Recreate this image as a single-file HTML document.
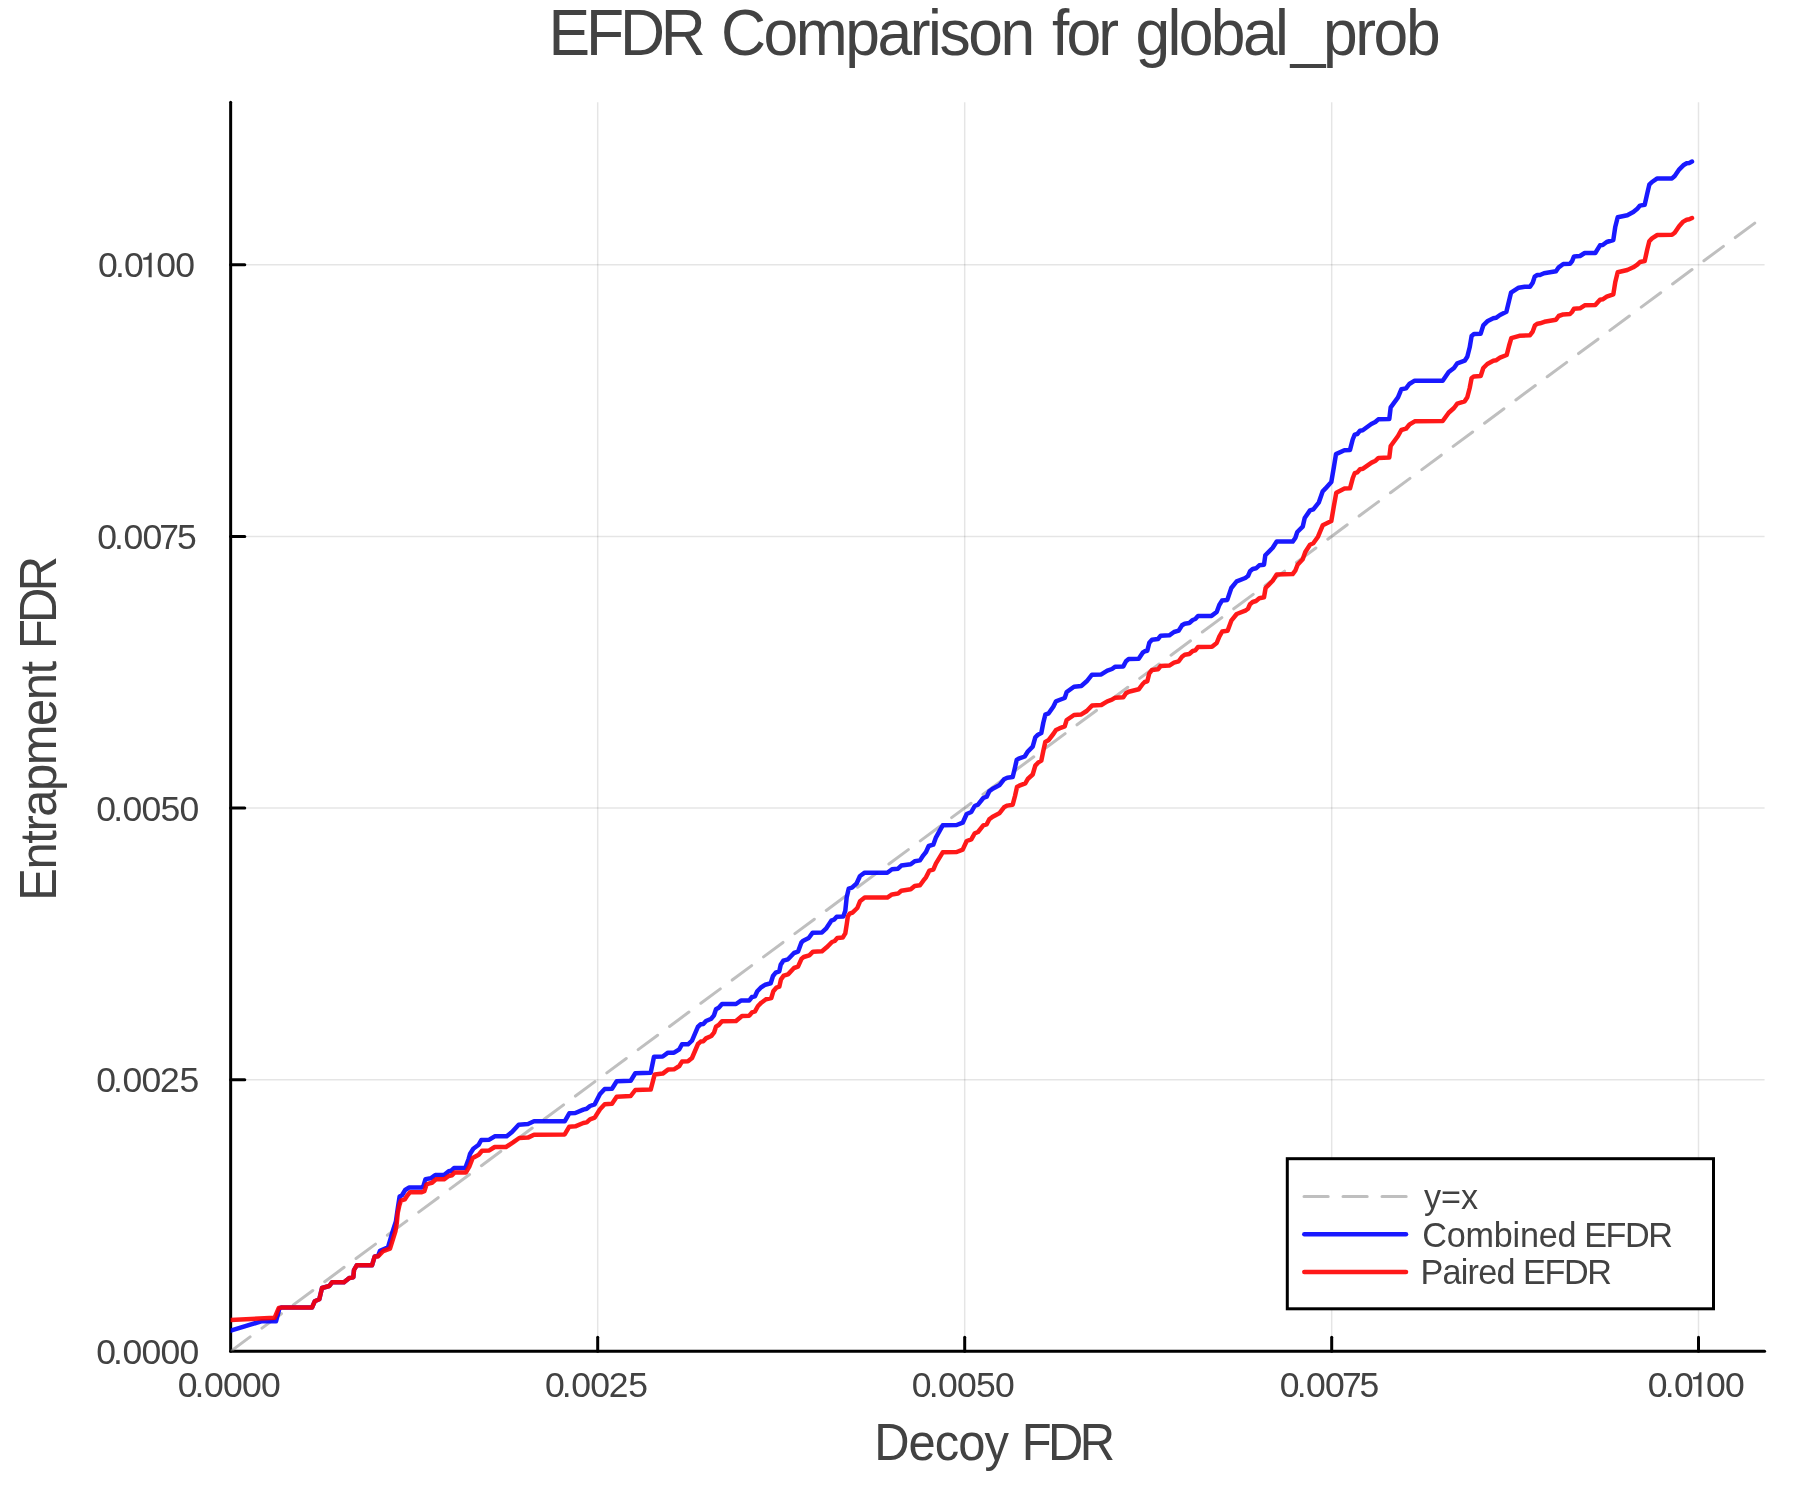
<!DOCTYPE html>
<html lang="en"><head><meta charset="utf-8"><title>EFDR Comparison for global_prob</title>
<style>html,body{margin:0;padding:0;background:#fff;}body{width:1800px;height:1500px;overflow:hidden;}svg{display:block;}text{font-family:"Liberation Sans",sans-serif;fill:#424242;font-kerning:none;white-space:pre;}</style></head><body>
<svg width="1800" height="1500" viewBox="0 0 1800 1500" style="will-change:transform">
<rect width="1800" height="1500" fill="#ffffff"/>
<g stroke="#000" stroke-opacity="0.1" stroke-width="1.5" fill="none">
<path d="M597.7,102.2 V1351.3"/>
<path d="M964.7,102.2 V1351.3"/>
<path d="M1331.7,102.2 V1351.3"/>
<path d="M1698.5,102.2 V1351.3"/>
<path d="M230.65,1079.7 H1764.6"/>
<path d="M230.65,808.1 H1764.6"/>
<path d="M230.65,536.4 H1764.6"/>
<path d="M230.65,264.8 H1764.6"/>
</g>
<g stroke="#000" stroke-width="3" fill="none" stroke-linecap="round">
<path d="M230.65,102.2 V1351.3"/>
<path d="M230.65,1351.3 H1764.6"/>
<path d="M597.7,1351.3 V1337.2"/>
<path d="M964.7,1351.3 V1337.2"/>
<path d="M1331.7,1351.3 V1337.2"/>
<path d="M1698.5,1351.3 V1337.2"/>
<path d="M230.65,1079.7 H244.75"/>
<path d="M230.65,808.1 H244.75"/>
<path d="M230.65,536.4 H244.75"/>
<path d="M230.65,264.8 H244.75"/>
</g>
<clipPath id="pc"><rect x="230.65" y="102.2" width="1533.9499999999998" height="1249.1"/></clipPath>
<g clip-path="url(#pc)" fill="none" stroke-linejoin="round">
<path d="M230.65,1351.3 L1755.5,222.6" stroke="#808080" stroke-opacity="0.5" stroke-width="3" stroke-dasharray="24.2 14.8" stroke-linecap="round"/>
<path d="M230.7,1330.7 L261.3,1321.3 L276.0,1321.3 L279.3,1309.0 L281.0,1307.6 L312.0,1307.6 L314.7,1301.3 L319.3,1299.3 L322.0,1288.0 L329.3,1286.0 L332.0,1282.3 L344.0,1282.3 L349.3,1278.0 L353.3,1277.3 L354.0,1270.0 L356.7,1265.3 L372.0,1265.3 L374.7,1256.4 L378.0,1256.0 L380.0,1250.7 L388.0,1247.3 L393.3,1229.5 L395.9,1221.5 L397.1,1213.0 L398.2,1205.5 L399.6,1196.5 L402.0,1195.2 L405.2,1190.0 L408.9,1187.6 L421.2,1187.6 L423.3,1186.3 L425.5,1179.1 L430.7,1178.3 L435.3,1175.0 L444.0,1175.0 L448.7,1171.3 L451.3,1170.7 L454.0,1168.0 L465.3,1168.0 L468.7,1158.7 L470.0,1154.0 L473.3,1148.7 L478.7,1144.7 L481.3,1140.0 L489.3,1139.7 L494.7,1136.3 L506.7,1136.3 L512.0,1132.0 L518.7,1124.7 L528.0,1124.0 L534.0,1121.3 L564.7,1121.3 L569.3,1113.3 L575.3,1113.0 L583.3,1109.6 L586.7,1108.7 L590.0,1106.0 L594.7,1104.3 L600.0,1094.0 L604.7,1089.0 L612.0,1088.7 L616.7,1081.3 L630.7,1080.7 L635.3,1073.3 L650.7,1072.7 L654.0,1056.7 L662.7,1056.5 L668.0,1052.7 L674.0,1052.7 L679.3,1049.3 L682.0,1044.3 L688.0,1044.3 L692.0,1040.7 L698.0,1026.7 L700.7,1024.3 L703.3,1024.0 L706.0,1021.0 L711.3,1018.7 L714.0,1015.3 L716.0,1009.3 L718.7,1007.7 L722.0,1004.0 L736.0,1004.0 L741.3,1000.4 L749.3,1000.4 L752.0,997.0 L755.0,996.3 L757.3,991.3 L760.7,987.7 L765.3,984.7 L770.7,983.3 L773.0,976.0 L775.7,972.7 L779.3,971.3 L780.7,964.7 L783.3,960.7 L788.0,959.3 L794.0,953.0 L798.0,951.7 L801.3,942.7 L803.3,940.7 L808.7,938.0 L812.7,932.7 L822.0,932.4 L826.0,928.7 L831.3,920.7 L834.0,919.7 L836.7,916.7 L843.3,916.4 L845.3,910.7 L846.7,897.3 L848.7,888.7 L852.0,887.7 L856.7,883.3 L860.0,876.0 L864.7,872.7 L887.3,872.7 L892.0,869.3 L898.0,868.7 L901.3,865.6 L910.7,864.3 L914.7,861.3 L920.0,860.4 L923.3,855.3 L926.0,852.0 L928.7,846.0 L933.3,844.7 L936.0,837.3 L942.7,825.3 L956.7,825.0 L962.7,822.7 L966.7,814.0 L971.3,812.0 L974.7,806.0 L978.0,804.7 L983.3,798.0 L986.7,796.7 L989.3,791.3 L992.7,788.7 L999.3,785.3 L1004.0,779.3 L1007.3,777.7 L1012.7,777.0 L1014.7,768.7 L1016.7,760.0 L1018.7,758.7 L1024.7,756.5 L1028.0,751.3 L1032.7,746.7 L1035.3,737.3 L1038.0,734.7 L1041.3,733.0 L1043.3,722.7 L1045.3,714.7 L1048.7,713.3 L1053.3,706.7 L1056.0,701.3 L1059.3,700.0 L1064.7,698.0 L1066.7,692.0 L1074.0,686.7 L1081.3,686.0 L1086.7,681.3 L1092.0,674.7 L1101.3,674.4 L1107.3,670.7 L1112.0,669.0 L1115.3,666.7 L1123.3,666.4 L1126.0,661.3 L1128.7,659.0 L1138.7,658.7 L1142.7,652.7 L1144.7,651.3 L1147.3,650.7 L1149.3,642.7 L1152.0,639.7 L1158.0,639.0 L1160.7,635.7 L1169.3,635.3 L1174.0,632.0 L1178.7,630.7 L1182.0,625.3 L1184.7,623.7 L1189.3,623.0 L1192.7,620.0 L1195.3,619.0 L1198.0,616.0 L1211.5,615.9 L1216.7,612.0 L1219.3,605.0 L1222.0,600.6 L1227.3,599.9 L1231.3,588.0 L1236.7,581.3 L1245.3,578.0 L1248.0,576.0 L1250.0,571.3 L1252.7,569.0 L1256.0,568.3 L1259.3,565.3 L1264.0,564.7 L1265.3,555.3 L1272.7,547.7 L1276.7,541.6 L1292.7,541.6 L1295.3,538.0 L1297.3,532.0 L1302.7,526.7 L1304.7,518.0 L1310.0,510.4 L1313.3,509.3 L1318.7,502.7 L1322.7,491.3 L1325.3,488.7 L1331.3,482.0 L1334.0,466.4 L1336.0,454.1 L1344.4,450.2 L1350.0,449.9 L1352.7,439.5 L1354.7,434.7 L1357.3,434.0 L1360.0,430.7 L1362.7,430.3 L1371.3,424.0 L1375.3,422.0 L1378.3,419.3 L1389.3,419.0 L1390.7,407.3 L1398.0,397.3 L1401.3,389.3 L1406.0,388.4 L1409.3,384.0 L1414.7,380.7 L1442.7,380.7 L1448.7,372.0 L1454.0,368.0 L1457.3,363.3 L1464.7,360.7 L1467.3,356.7 L1469.7,347.3 L1471.6,336.0 L1474.0,334.0 L1480.7,333.7 L1483.3,325.3 L1487.3,321.3 L1493.3,318.3 L1496.0,317.8 L1500.0,315.0 L1506.4,311.8 L1509.0,301.0 L1511.0,292.7 L1518.7,287.7 L1524.7,286.7 L1530.0,286.7 L1532.7,282.7 L1534.7,276.7 L1537.3,275.0 L1540.0,275.0 L1544.0,273.3 L1556.0,271.3 L1558.7,267.3 L1563.3,264.0 L1570.0,263.7 L1572.0,261.3 L1574.0,256.4 L1580.0,256.0 L1584.7,253.0 L1595.3,253.0 L1600.0,245.3 L1602.7,245.0 L1606.7,242.0 L1613.3,240.0 L1615.3,226.7 L1617.7,217.3 L1627.3,215.3 L1633.3,212.0 L1637.3,208.7 L1640.0,205.6 L1644.7,204.7 L1647.3,193.3 L1649.3,184.7 L1652.0,182.0 L1657.3,178.4 L1672.0,178.4 L1674.7,176.0 L1679.3,169.3 L1683.3,165.3 L1686.7,163.3 L1689.3,163.0 L1692.0,161.6" stroke="#0000ff" stroke-opacity="0.9" stroke-width="4.5" stroke-linecap="round"/>
<path d="M230.7,1320.0 L274.7,1317.7 L278.7,1308.0 L281.0,1307.6 L312.0,1307.6 L314.7,1301.3 L319.3,1299.3 L322.0,1288.0 L329.3,1286.0 L332.0,1282.3 L344.0,1282.3 L349.3,1278.0 L353.3,1277.3 L354.0,1270.0 L356.7,1265.3 L372.0,1265.3 L374.7,1256.4 L378.0,1256.4 L383.3,1251.0 L390.0,1248.7 L395.4,1231.3 L396.7,1223.7 L397.7,1213.0 L399.3,1205.5 L400.9,1200.6 L404.7,1199.4 L407.3,1195.4 L410.0,1192.3 L421.2,1192.3 L424.4,1191.1 L426.5,1184.5 L428.7,1183.6 L432.0,1182.8 L436.0,1179.3 L444.0,1179.3 L448.7,1176.0 L452.0,1175.3 L454.7,1172.4 L466.0,1172.4 L469.3,1166.7 L472.7,1158.0 L478.7,1154.7 L482.0,1150.7 L489.3,1150.4 L494.7,1147.0 L506.0,1147.0 L512.7,1142.7 L519.3,1138.0 L528.0,1137.6 L534.0,1134.7 L564.7,1134.4 L569.3,1126.7 L575.3,1126.3 L583.3,1123.0 L586.7,1122.4 L590.0,1119.3 L594.7,1117.6 L600.0,1109.3 L604.7,1104.3 L612.0,1103.7 L616.7,1096.7 L630.7,1096.0 L635.3,1090.0 L650.7,1089.6 L654.7,1074.4 L662.7,1073.6 L668.0,1069.6 L674.0,1069.3 L679.3,1066.0 L682.0,1061.6 L688.0,1061.3 L692.0,1058.0 L698.0,1044.0 L700.7,1041.6 L703.3,1041.3 L706.0,1038.4 L711.3,1036.0 L714.0,1032.7 L716.0,1026.7 L718.7,1025.0 L722.0,1021.3 L736.0,1021.0 L742.0,1016.0 L749.3,1015.7 L752.0,1012.3 L755.0,1011.3 L758.0,1006.0 L761.3,1002.7 L766.0,999.3 L771.3,998.0 L773.3,991.3 L776.3,987.7 L779.3,986.7 L781.0,979.3 L783.7,975.7 L788.0,974.4 L794.0,968.0 L798.0,966.7 L801.6,958.7 L803.7,957.0 L809.3,955.3 L813.0,951.7 L822.0,951.3 L826.7,947.3 L832.0,942.0 L834.7,941.0 L837.3,938.0 L842.7,937.6 L845.3,933.3 L846.7,924.5 L847.8,916.7 L849.6,913.7 L852.5,912.6 L857.3,908.0 L860.0,901.3 L864.7,897.6 L887.3,897.6 L892.0,894.4 L898.0,893.6 L901.3,890.7 L910.7,889.3 L914.7,886.0 L920.0,885.3 L923.3,880.7 L926.0,877.3 L929.3,870.7 L933.3,869.6 L936.0,863.3 L942.7,852.3 L956.7,852.0 L962.7,849.6 L966.7,841.0 L971.3,839.3 L974.7,833.3 L978.0,832.0 L983.3,825.3 L986.7,824.3 L989.3,819.3 L992.7,816.7 L999.3,813.3 L1004.0,807.3 L1007.3,805.6 L1012.7,804.7 L1015.0,796.0 L1017.0,787.0 L1019.3,785.7 L1025.3,783.3 L1028.0,778.7 L1032.7,774.5 L1035.3,765.6 L1038.0,762.7 L1041.3,760.7 L1043.3,751.0 L1045.3,742.0 L1048.4,740.3 L1053.3,734.0 L1056.0,730.0 L1059.3,728.4 L1064.7,726.4 L1066.7,720.0 L1074.0,715.0 L1081.3,714.4 L1086.7,711.0 L1092.0,705.6 L1101.3,705.0 L1107.3,701.3 L1112.0,699.7 L1115.3,697.7 L1123.3,697.3 L1126.0,693.3 L1128.7,691.7 L1138.7,689.3 L1142.7,684.0 L1144.7,682.0 L1147.3,681.3 L1149.3,673.3 L1152.0,670.0 L1158.0,669.3 L1160.7,666.0 L1169.3,665.6 L1174.0,662.7 L1178.7,661.3 L1182.0,656.7 L1184.7,654.7 L1189.3,654.0 L1192.7,651.0 L1195.3,650.3 L1198.0,647.0 L1212.0,646.7 L1216.7,643.0 L1219.3,636.7 L1222.2,631.5 L1227.6,630.8 L1231.3,620.7 L1236.7,614.0 L1245.3,610.7 L1248.0,608.7 L1250.0,604.3 L1252.7,602.0 L1256.0,601.0 L1259.3,598.3 L1264.0,597.3 L1265.6,588.0 L1272.7,580.7 L1276.7,574.4 L1292.7,574.0 L1295.3,570.7 L1297.6,564.7 L1302.7,559.3 L1305.3,552.0 L1310.0,544.7 L1313.3,543.3 L1318.0,536.7 L1322.7,525.3 L1325.3,524.0 L1331.3,521.0 L1334.0,505.3 L1336.3,492.7 L1344.5,488.5 L1350.0,488.3 L1352.7,478.3 L1354.7,473.2 L1357.3,472.4 L1360.0,469.2 L1363.0,468.7 L1371.6,462.6 L1375.6,460.7 L1378.5,457.9 L1389.3,457.5 L1390.7,446.0 L1398.0,436.0 L1401.3,430.0 L1406.0,428.7 L1409.3,424.7 L1414.7,421.3 L1442.7,421.0 L1448.7,412.7 L1454.0,408.0 L1457.3,403.6 L1464.7,401.3 L1467.3,397.3 L1469.7,388.0 L1471.6,378.0 L1474.0,376.4 L1480.7,376.0 L1483.3,368.0 L1487.3,364.0 L1493.3,360.7 L1496.0,360.3 L1500.0,357.7 L1506.7,355.0 L1509.0,346.0 L1511.3,338.2 L1519.3,335.8 L1530.0,335.2 L1532.7,331.6 L1535.0,325.3 L1537.5,323.7 L1540.0,323.3 L1544.4,321.8 L1556.0,319.7 L1558.7,316.0 L1563.3,314.4 L1570.0,314.0 L1572.0,312.0 L1574.0,308.7 L1580.0,308.3 L1584.7,305.3 L1595.3,305.0 L1600.0,299.7 L1602.7,299.3 L1606.7,296.7 L1613.3,294.4 L1615.3,282.0 L1617.7,272.3 L1627.3,270.0 L1633.3,267.3 L1637.3,264.7 L1640.0,262.0 L1644.7,261.0 L1647.3,249.3 L1649.3,241.3 L1652.0,238.4 L1657.3,235.0 L1672.0,234.7 L1674.7,232.7 L1679.3,226.0 L1683.3,221.6 L1686.7,219.7 L1689.3,219.3 L1692.0,218.0" stroke="#ff0000" stroke-opacity="0.9" stroke-width="4.5" stroke-linecap="round"/>
</g>
<text transform="translate(179.00,1396.70) scale(1.0,1)" font-size="35.5" x="-1.39 15.56 24.91 43.91 62.91 81.91">0.0000</text>
<text transform="translate(546.30,1396.70) scale(1.0,1)" font-size="35.5" x="-1.39 15.46 24.91 43.91 62.51 81.88">0.0025</text>
<text transform="translate(913.00,1396.70) scale(1.0,1)" font-size="35.5" x="-1.39 15.76 25.11 44.11 63.08 82.11">0.0050</text>
<text transform="translate(1281.20,1396.70) scale(1.0,1)" font-size="35.5" x="-1.39 15.56 24.91 43.91 60.78 78.38">0.0075</text>
<path transform="translate(1689.48,1396.70) scale(0.03450,-0.03450)" d="M259,0H347V709H289C258,599 240,584 102,567V504H259Z" fill="#424242"/><text transform="translate(1649.20,1396.70) scale(1.0,1)" font-size="35.5" x="-1.39 15.56 24.71 43.80 56.91 75.91">0.0 00</text>
<text transform="translate(97.50,1363.70) scale(1.0,1)" font-size="35.5" x="-1.39 15.56 24.91 43.91 62.91 81.91">0.0000</text>
<text transform="translate(97.50,1092.10) scale(1.0,1)" font-size="35.5" x="-1.39 15.46 24.91 43.91 62.51 81.88">0.0025</text>
<text transform="translate(97.50,820.50) scale(1.0,1)" font-size="35.5" x="-1.39 15.76 25.11 44.11 63.08 82.11">0.0050</text>
<text transform="translate(98.50,548.80) scale(1.0,1)" font-size="35.5" x="-1.39 15.56 24.91 43.91 60.78 78.38">0.0075</text>
<path transform="translate(139.68,277.20) scale(0.03450,-0.03450)" d="M259,0H347V709H289C258,599 240,584 102,567V504H259Z" fill="#424242"/><text transform="translate(99.40,277.20) scale(1.0,1)" font-size="35.5" x="-1.39 15.56 24.71 43.80 56.91 75.91">0.0 00</text>
<text transform="translate(548.58,54.70) scale(0.957,1)" font-size="65.2" letter-spacing="-4.368">EFDR</text>
<text transform="translate(721.03,54.70) scale(0.957,1)" font-size="65.2" letter-spacing="-2.573">Comparison</text>
<text transform="translate(1052.12,54.70) scale(0.957,1)" font-size="65.2" letter-spacing="-3.081">for</text>
<text transform="translate(1135.38,54.70) scale(0.957,1)" font-size="65.2" letter-spacing="-2.725">global</text>
<text transform="translate(1290.64,54.70) scale(0.957,1)" font-size="65.2" letter-spacing="-2.511">_prob</text>
<text transform="translate(874.19,1459.60) scale(0.957,1)" font-size="51.1" letter-spacing="-0.994">Decoy</text>
<text transform="translate(1021.79,1459.60) scale(0.957,1)" font-size="51.1" letter-spacing="-3.722">FDR</text>
<text transform="translate(56.20,900.71) rotate(-90) scale(0.957,1)" font-size="51.1" letter-spacing="-1.490">Entrapment</text>
<text transform="translate(56.20,649.11) rotate(-90) scale(0.957,1)" font-size="51.1" letter-spacing="-3.826">FDR</text>
<rect x="1287.3" y="1158.7" width="426.2" height="150.1" fill="#fff" stroke="#000" stroke-width="3"/>
<g fill="none">
<path d="M1304,1196.5 H1406.5" stroke="#808080" stroke-opacity="0.5" stroke-width="3" stroke-dasharray="24.2 14.8" stroke-linecap="round"/>
<path d="M1304.3,1234.2 H1406" stroke="#0000ff" stroke-opacity="0.9" stroke-width="4.5" stroke-linecap="round"/>
<path d="M1304.3,1271.9 H1406" stroke="#ff0000" stroke-opacity="0.9" stroke-width="4.5" stroke-linecap="round"/>
</g>
<text transform="translate(1423.92,1208.90) scale(0.96,1)" font-size="35.6" letter-spacing="0.008">y=x</text>
<text transform="translate(1422.26,1246.50) scale(0.96,1)" font-size="35.6" letter-spacing="-0.199">Combined</text>
<text transform="translate(1584.20,1246.50) scale(0.96,1)" font-size="35.6" letter-spacing="-1.508">EFDR</text>
<text transform="translate(1420.40,1283.50) scale(0.96,1)" font-size="35.6" letter-spacing="-0.747">Paired</text>
<text transform="translate(1523.10,1283.50) scale(0.96,1)" font-size="35.6" letter-spacing="-1.474">EFDR</text>
</svg></body></html>
